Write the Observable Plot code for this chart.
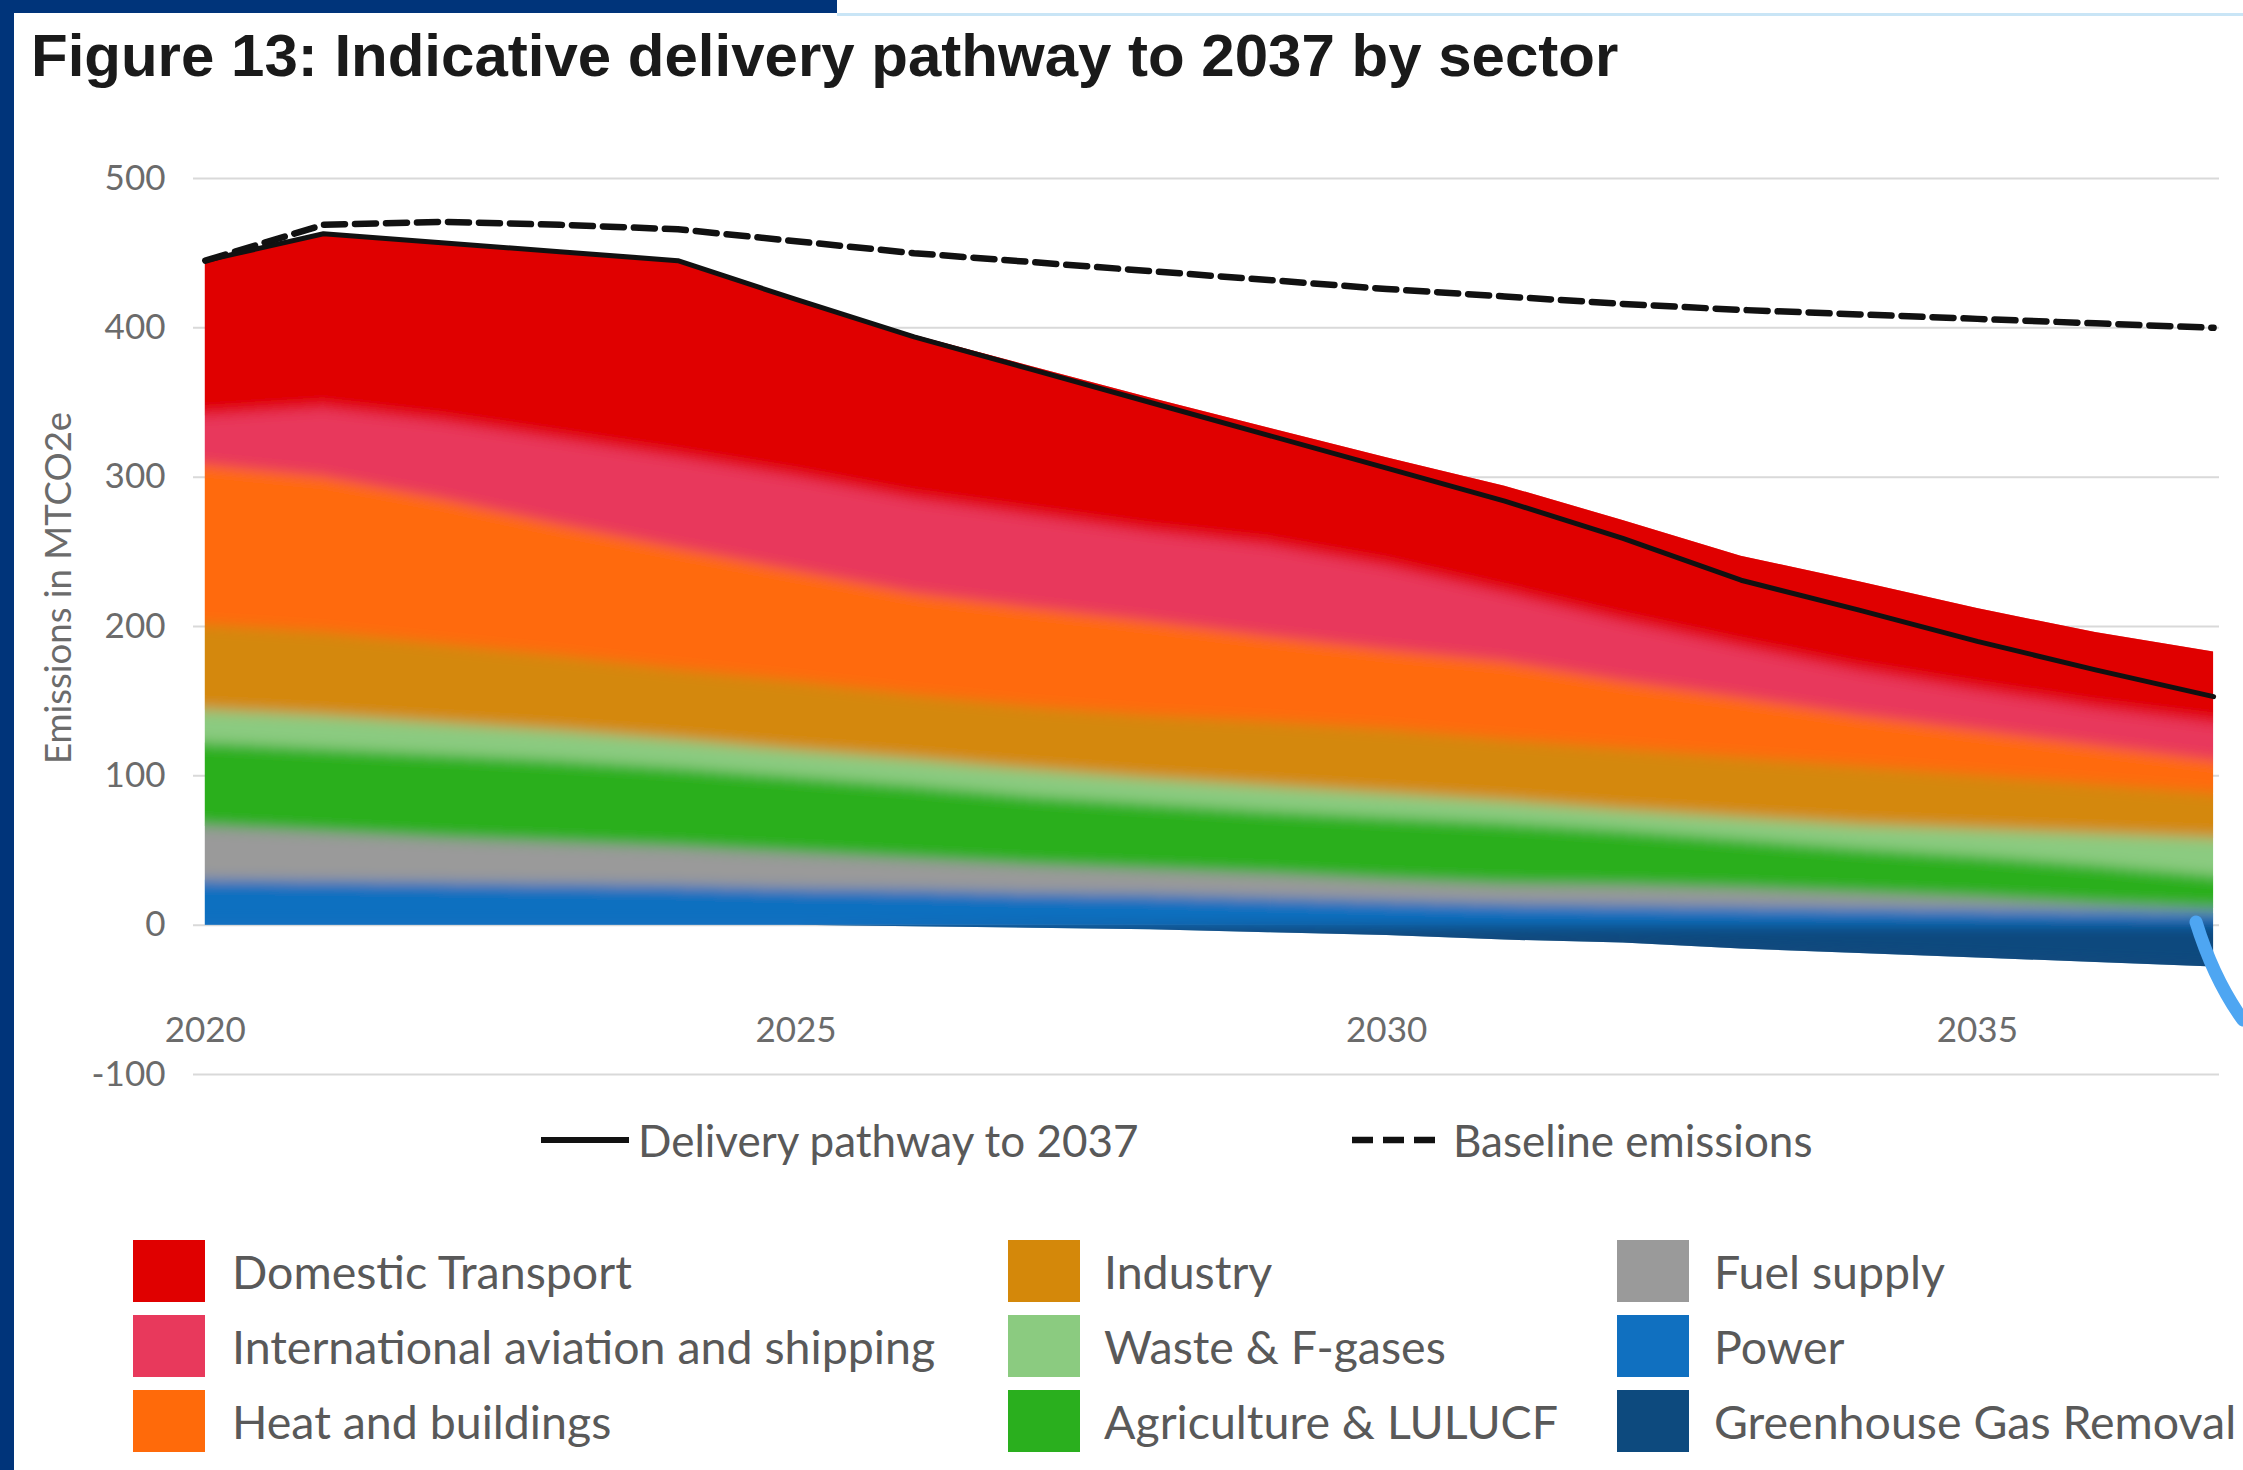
<!DOCTYPE html>
<html>
<head>
<meta charset="utf-8">
<script src="https://cdn.jsdelivr.net/npm/d3@7"></script>
<script src="https://cdn.jsdelivr.net/npm/@observablehq/plot@0.6"></script>
<style>
  html, body { margin: 0; padding: 0; background: #fff; }
  #page { position: relative; width: 2243px; height: 1470px; overflow: hidden; background: #fff; font-family: Lato, "Open Sans", sans-serif; }
  .abs { position: absolute; }
  #title { left: 31px; top: 26px; font: bold 60px "Liberation Sans", Arial, sans-serif; line-height: 60px; color: #1a1a1a; white-space: nowrap; }
  #ylabel { left: 57px; top: 588px; transform: translate(-50%, -50%) rotate(-90deg); font-size: 36.5px; color: #6b6b6b; white-space: nowrap; }
  .lg { font-size: 46.5px; color: #595959; white-space: nowrap; height: 62px; line-height: 62px; }
  .lgl { font-size: 44px; color: #595959; white-space: nowrap; height: 62px; line-height: 62px; }
  #chart { left: 0; top: 100px; }
</style>
</head>
<body>
<div id="page">
  <div class="abs" style="left:0;top:0;width:14px;height:1470px;background:#00347a"></div>
  <div class="abs" style="left:0;top:0;width:837px;height:13px;background:#00347a"></div>
  <div class="abs" style="left:837px;top:13px;width:1406px;height:3px;background:#c9e5f6"></div>
  <div class="abs" id="title">Figure 13: Indicative delivery pathway to 2037 by sector</div>
  <div class="abs" id="ylabel">Emissions in MTCO2e</div>
  <div class="abs" id="chart"></div>
  <div id="legend"></div>
  <svg class="abs" style="left:2180px;top:900px" width="63" height="140">
    <path d="M16,22 Q34,80 63,120" fill="none" stroke="#4ea6f2" stroke-width="13" stroke-linecap="round"/>
  </svg>
</div>
<script>
// ---- data ----
const years = [2020,2021,2022,2023,2024,2025,2026,2027,2028,2029,2030,2031,2032,2033,2034,2035,2036,2037];
const sectors = ["Domestic Transport","International aviation and shipping","Heat and buildings","Industry","Waste & F-gases","Agriculture & LULUCF","Fuel supply","Power","Greenhouse Gas Removal"];
const sectorColors = ["#e00000","#e8395c","#ff6a0a","#d4880a","#8bcb80","#2aaf1e","#9a9a9a","#1070c0","#0d4a7e"];
const domesticTransport = [104,117,120,126,132,119,110,100,90,79,73,72,68,61,60,55,51,48];
const intlAviationShipping = [33,46,52,57,61,63,63,62,60,61,56,46,40,34,30,27,25,25];
const heatBuildings = [107,104,97,88,81,74,68,66,63,57,53,52,45,40,34,30,26,22];
const industry = [57,56,53,50,47,46,43,42,42,43,43,41,41,40,39,36,33,30];
const wasteFgases = [22,22,21,20,19,18,18,18,17,17,16,15,14,15,16,18,21,25];
const agricultureLulucf = [56,56,56,55,53,51,49,46,44,42,42,41,37,33,30,28,26,22];
const fuelSupply = [36,33,30,28,26,24,21,19,17,16,14,13,13,12,10,8,5,3];
const power = [30,29,28,27,26,24,23,21,20,18,16,14,13,12,11,10,9,8];
const ghgRemoval = [0,0,0,0,0,0,-1,-2,-3,-5,-7,-10,-12,-16,-19,-22,-25,-28];
const pathway = [445,463,457,451,445,419,394,372,350,328,306,284,259,231,211,190,171,153];
const baseline = [445,469,471,469,466,458,450,444,438,432,426,421,416,412,409,406,403,400];
const yTicks = [-100,0,100,200,300,400,500];
const xTicks = [2020,2025,2030,2035];
const lineLegend = ["Delivery pathway to 2037","Baseline emissions"];

// ---- build tables ----
const seriesBySector = {
  "Domestic Transport": domesticTransport,
  "International aviation and shipping": intlAviationShipping,
  "Heat and buildings": heatBuildings,
  "Industry": industry,
  "Waste & F-gases": wasteFgases,
  "Agriculture & LULUCF": agricultureLulucf,
  "Fuel supply": fuelSupply,
  "Power": power,
  "Greenhouse Gas Removal": ghgRemoval
};
const stackOrder = ["Greenhouse Gas Removal","Power","Fuel supply","Agriculture & LULUCF","Waste & F-gases","Industry","Heat and buildings","International aviation and shipping","Domestic Transport"];
const rows = [];
for (const s of sectors) years.forEach((yr, i) => rows.push({year: yr, sector: s, value: seriesBySector[s][i]}));
const lineRows = years.map((yr, i) => ({year: yr, pathway: pathway[i], baseline: baseline[i]}));

const chart = Plot.plot({
  width: 2243,
  height: 1000,
  marginTop: 78,
  marginBottom: 26,
  marginLeft: 193,
  marginRight: 24,
  style: {fontFamily: "Lato, sans-serif", background: "transparent", overflow: "visible"},
  x: {domain: [2019.9, 2037.05]},
  y: {domain: [-100, 500]},
  color: {domain: sectors, range: sectorColors},
  marks: [
    Plot.gridY(yTicks, {stroke: "#d9d9d9", strokeOpacity: 1, strokeWidth: 2}),
    Plot.areaY(rows, {x: "year", y: "value", fill: "sector", order: stackOrder}),
    Plot.line(lineRows, {x: "year", y: "baseline", stroke: "#111", strokeWidth: 6.5, strokeDasharray: "21,10"}),
    Plot.line(lineRows, {x: "year", y: "pathway", stroke: "#111", strokeWidth: 5}),
    Plot.axisY(yTicks, {tickSize: 0, tickPadding: 28, fontSize: 35, fill: "#6b6b6b", tickFormat: d => String(d), label: null}),
    Plot.axisX(xTicks, {tickSize: 0, fontSize: 35, fill: "#6b6b6b", tickFormat: d => String(d), dy: -66, label: null})
  ]
});
document.getElementById("chart").appendChild(chart);

// soften the colour transitions between stacked bands (vertical blur, clipped to the stack outline)
(function softenBands() {
  const NS = "http://www.w3.org/2000/svg";
  const areaG = chart.querySelector('g[aria-label="area"]');
  if (!areaG) return;
  let defs = chart.querySelector("defs");
  if (!defs) { defs = document.createElementNS(NS, "defs"); chart.insertBefore(defs, chart.firstChild); }
  const filter = document.createElementNS(NS, "filter");
  filter.setAttribute("id", "vblur");
  filter.setAttribute("x", "0"); filter.setAttribute("y", "-0.1");
  filter.setAttribute("width", "1"); filter.setAttribute("height", "1.2");
  filter.innerHTML = '<feGaussianBlur stdDeviation="0 7"/>';
  defs.appendChild(filter);
  const clip = document.createElementNS(NS, "clipPath");
  clip.setAttribute("id", "stackclip");
  areaG.querySelectorAll("path").forEach(p => {
    const c = p.cloneNode(false);
    c.removeAttribute("fill");
    clip.appendChild(c);
  });
  if (areaG.getAttribute("transform")) clip.setAttribute("transform", areaG.getAttribute("transform"));
  defs.appendChild(clip);
  const wrap = document.createElementNS(NS, "g");
  wrap.setAttribute("clip-path", "url(#stackclip)");
  const blurred = areaG.cloneNode(true);
  blurred.removeAttribute("aria-label");
  blurred.setAttribute("filter", "url(#vblur)");
  wrap.appendChild(blurred);
  areaG.parentNode.insertBefore(wrap, areaG.nextSibling);
})();

// ---- legends ----
const legend = document.getElementById("legend");
const lineSwatchX = [541, 1352];
const lineTextX = [638, 1453];
const lineRowY = 1140;
lineLegend.forEach((name, i) => {
  const sw = document.createElementNS("http://www.w3.org/2000/svg", "svg");
  sw.setAttribute("class", "abs");
  sw.setAttribute("width", "90");
  sw.setAttribute("height", "10");
  sw.style.left = lineSwatchX[i] + "px";
  sw.style.top = (lineRowY - 5) + "px";
  sw.innerHTML = i === 0
    ? '<line x1="0" y1="5" x2="88" y2="5" stroke="#111" stroke-width="6"/>'
    : '<line x1="0" y1="5" x2="84" y2="5" stroke="#111" stroke-width="6.5" stroke-dasharray="21,10"/>';
  legend.appendChild(sw);
  const t = document.createElement("div");
  t.className = "abs lgl";
  t.style.left = lineTextX[i] + "px";
  t.style.top = (lineRowY - 31) + "px";
  t.textContent = name;
  legend.appendChild(t);
});
const colSwatchX = [133, 1008, 1617];
const colTextX = [232, 1104, 1714];
const rowTop = [1240, 1315, 1390];
sectors.forEach((name, i) => {
  const c = Math.floor(i / 3), r = i % 3;
  const sw = document.createElement("div");
  sw.className = "abs";
  sw.style.cssText = `left:${colSwatchX[c]}px;top:${rowTop[r]}px;width:72px;height:62px;background:${sectorColors[i]}`;
  legend.appendChild(sw);
  const t = document.createElement("div");
  t.className = "abs lg";
  t.style.left = colTextX[c] + "px";
  t.style.top = rowTop[r] + "px";
  t.textContent = name;
  legend.appendChild(t);
});
</script>
</body>
</html>
